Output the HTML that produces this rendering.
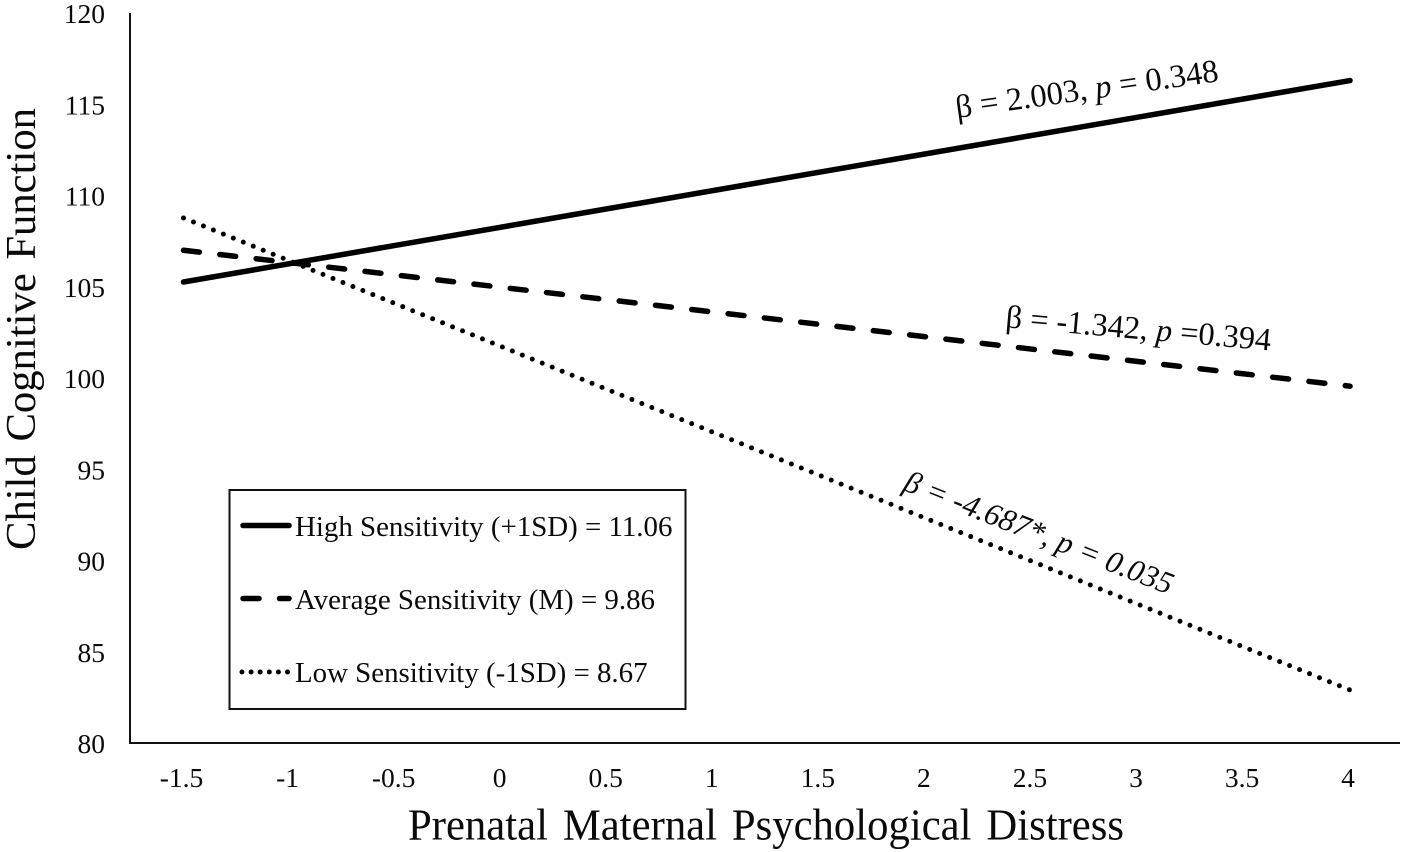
<!DOCTYPE html>
<html>
<head>
<meta charset="utf-8">
<title>Child Cognitive Function by Prenatal Maternal Psychological Distress</title>
<style>
  html, body { margin: 0; padding: 0; background: #fff; }
  svg { display: block; }
  text { font-family: "Liberation Serif", serif; fill: #0a0a0a; }
</style>
</head>
<body>
<svg id="chart" xmlns="http://www.w3.org/2000/svg" width="1405" height="852" viewBox="0 0 1405 852">
  <rect x="0" y="0" width="1405" height="852" fill="#fff"/>
  <g id="axes"></g>
  <g id="series"></g>

  <text transform="translate(408,839.3) scale(1,1.04)" font-size="42.7" word-spacing="4.2" textLength="716" lengthAdjust="spacing">Prenatal Maternal Psychological Distress</text>
  <text transform="translate(35,550) rotate(-90)" font-size="42.7" word-spacing="3" textLength="442" lengthAdjust="spacing">Child Cognitive Function</text>

  <text transform="translate(957,118) rotate(-8)" font-size="32.6">β = 2.003, <tspan font-style="italic">p</tspan> = 0.348</text>
  <text transform="translate(1005,327.3) rotate(5)" font-size="32.4">β = -1.342, <tspan font-style="italic">p</tspan> =0.394</text>
  <text transform="translate(902,489.6) rotate(21.5)" font-size="31.2" font-style="italic">β = -4.687*, p = 0.035</text>

  <g>
    <rect x="229.5" y="490" width="456" height="219" fill="#fff" stroke="#111" stroke-width="2"/>
    <line x1="243" y1="525.5" x2="289" y2="525.5" stroke="#000" stroke-width="5.5" stroke-linecap="round"/>
    <text x="295" y="536" font-size="28.9">High Sensitivity (+1SD) = 11.06</text>
    <line x1="243" y1="598.5" x2="289" y2="598.5" stroke="#000" stroke-width="5.5" stroke-linecap="round" stroke-dasharray="16 20.55"/>
    <text x="295" y="609" font-size="28.9">Average Sensitivity (M) = 9.86</text>
    <line x1="242" y1="672" x2="288" y2="672" stroke="#000" stroke-width="5" stroke-linecap="round" stroke-dasharray="0 9.1"/>
    <text x="295" y="682" font-size="28.9">Low Sensitivity (-1SD) = 8.67</text>
  </g>
</svg>
<script>
const xValues = [-1.5, 4];
const highSensitivity = [105.26, 116.3];
const averageSensitivity = [107.0, 99.55];
const lowSensitivity = [108.77, 82.9];
const xTickLabels = ["-1.5", "-1", "-0.5", "0", "0.5", "1", "1.5", "2", "2.5", "3", "3.5", "4"];
const yTickLabels = ["80", "85", "90", "95", "100", "105", "110", "115", "120"];

const NS = "http://www.w3.org/2000/svg";
function xScale(v) { return 183.5 + (v + 1.5) * 212.1; }
function yScale(v) { return 743 - (v - 80) * 18.25; }

function make(tag, attrs, parent) {
  const el = document.createElementNS(NS, tag);
  for (const k in attrs) el.setAttribute(k, attrs[k]);
  parent.appendChild(el);
  return el;
}

const axes = document.getElementById("axes");
const seriesGroup = document.getElementById("series");

const yAxis = make("line", { x1: 130, y1: yScale(120), x2: 130, y2: yScale(80) + 1, stroke: "#111", "stroke-width": 2 }, axes);



const xAxis = make("line", { x1: 129, y1: yScale(80), x2: 1400, y2: yScale(80), stroke: "#111", "stroke-width": 2 }, axes);



yTickLabels.forEach(function (label) {
  const t = make("text", { x: 105, y: yScale(Number(label)) + 10, "text-anchor": "end", "font-size": 27.5 }, axes);
  
  
  t.textContent = label;
});

xTickLabels.forEach(function (label) {
  const t = make("text", { x: xScale(Number(label)) - 2, y: 787, "text-anchor": "middle", "font-size": 27.5 }, axes);
  
  
  t.textContent = label;
});

function pathFor(values) {
  return values.map(function (v, i) {
    return (i ? "L" : "M") + xScale(xValues[i]) + " " + yScale(v);
  }).join(" ");
}

const highLine = make("path", { d: pathFor(highSensitivity), fill: "none", stroke: "#000", "stroke-width": 5.5, "stroke-linecap": "round" }, seriesGroup);



const averageLine = make("path", { d: pathFor(averageSensitivity), fill: "none", stroke: "#000", "stroke-width": 5.5, "stroke-linecap": "round", "stroke-dasharray": "16 20.55" }, seriesGroup);



const lowLine = make("path", { d: pathFor(lowSensitivity), fill: "none", stroke: "#000", "stroke-width": 5, "stroke-linecap": "round", "stroke-dasharray": "0 10.75" }, seriesGroup);


</script>
</body>
</html>
